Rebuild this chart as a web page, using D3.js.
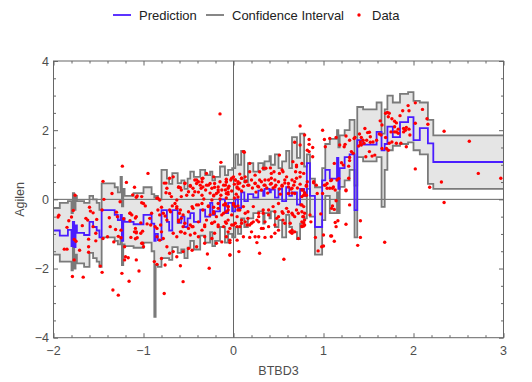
<!DOCTYPE html>
<html><head><meta charset="utf-8">
<script src="https://cdn.jsdelivr.net/npm/d3@7"></script>
<style>body{margin:0;background:#fff}svg{display:block;font-family:"Liberation Sans",Arial,sans-serif}</style>
</head><body><svg id="c" width="532" height="382"></svg>
<script>
// step breakpoints of the fitted model (x = left edge of each step)
const stepX = [-2.00,-1.93,-1.84,-1.80,-1.785,-1.77,-1.755,-1.74,-1.66,-1.60,-1.56,-1.52,-1.49,-1.465,-1.32,-1.285,-1.255,-1.24,-1.225,-1.21,-1.11,-1.00,-0.91,-0.88,-0.865,-0.84,-0.80,-0.74,-0.715,-0.68,-0.62,-0.58,-0.545,-0.51,-0.48,-0.44,-0.37,-0.315,-0.26,-0.235,-0.205,-0.15,-0.095,-0.06,-0.015,0.02,0.05,0.085,0.12,0.16,0.22,0.275,0.33,0.345,0.40,0.415,0.46,0.50,0.54,0.585,0.62,0.65,0.705,0.74,0.785,0.815,0.85,0.905,0.985,1.02,1.07,1.15,1.165,1.18,1.235,1.29,1.345,1.375,1.44,1.59,1.645,1.68,1.71,1.77,1.85,1.94,2.00,2.07,2.16,2.22];
const prediction = [-0.90,-1.05,-0.88,-1.35,-0.65,-1.38,-0.75,-0.97,-1.03,-0.65,-0.80,-0.90,-1.10,-0.31,-0.45,-0.60,-0.45,-1.20,-0.55,-0.65,-0.72,-0.45,-0.70,-1.20,-1.00,-1.18,-0.31,-0.65,-0.90,-0.31,-0.68,-0.50,-0.80,-0.55,-0.40,-0.65,-0.30,-0.50,-0.10,-0.45,-0.35,0.00,-0.40,-0.10,-0.35,0.00,-0.25,0.20,-0.05,0.15,0.05,0.25,0.10,0.30,0.20,0.28,0.05,0.30,-0.05,0.35,0.10,0.20,-0.15,0.30,0.10,1.05,0.10,-0.80,0.55,0.85,0.60,1.20,0.30,0.90,1.22,1.30,-0.31,1.71,1.58,1.95,1.42,1.60,2.10,1.80,2.23,2.38,1.71,2.06,1.62,1.08];
const ciLower = [-1.60,-1.80,-1.80,-2.05,-1.35,-2.00,-1.60,-1.85,-1.95,-1.55,-1.70,-1.80,-1.95,-1.10,-1.20,-1.30,-1.10,-1.90,-1.30,-1.35,-1.40,-1.25,-1.50,-3.40,-1.90,-1.95,-1.70,-1.70,-1.75,-1.38,-1.55,-1.45,-1.70,-1.40,-1.20,-1.45,-1.05,-1.25,-0.95,-1.35,-1.20,-0.80,-1.25,-1.00,-1.10,-0.80,-1.00,-0.55,-0.80,-0.55,-0.40,-0.35,-0.70,-0.40,-0.55,-0.35,-0.80,-0.60,-1.10,-0.45,-0.80,-0.95,-1.15,-0.70,-0.55,0.30,-0.50,-1.60,-0.60,0.10,-0.40,0.20,-0.40,0.36,0.55,0.85,-1.10,1.22,1.10,1.22,-0.22,0.85,1.42,1.55,1.60,1.65,1.42,1.30,0.45,0.30];
const ciUpper = [-0.25,-0.10,-0.05,-0.40,0.18,-0.30,0.10,-0.05,-0.10,0.10,0.00,-0.10,-0.30,0.46,0.35,0.20,0.65,-0.20,0.30,0.10,0.18,0.35,0.15,0.05,0.10,0.00,0.85,0.60,0.45,0.76,0.47,0.55,0.30,0.60,0.80,0.65,0.85,0.70,0.80,0.55,0.65,0.95,0.70,0.85,0.90,1.30,1.00,1.40,0.50,1.05,0.80,1.05,0.85,1.10,1.25,1.00,1.30,0.90,1.10,1.40,0.90,1.80,1.20,1.90,0.95,1.30,0.60,0.35,0.90,1.60,1.75,2.00,1.50,1.85,2.00,2.30,0.40,2.67,2.60,2.80,1.90,2.60,3.00,2.80,3.05,3.10,2.85,2.80,2.30,1.85];

const xTicks = [-2,-1,0,1,2,3];
const yTicks = [-4,-2,0,2,4];

// observed samples [BTBD3, Agilen]
const dataPoints = [
[-1.235,0.96],[-1.45,0.52],[-1.19,0.49],[-1.76,0.12],[-1.35,0.17],[-1.44,0.0],[-1.12,0.13],[-1.07,0.10],[-1.26,-0.07],[-1.02,-0.10],
[-1.78,-0.32],[-1.60,-0.23],[-1.59,-0.34],[-1.56,-0.39],[-1.46,-0.31],[-1.30,-0.37],[-1.15,-0.40],[-1.94,-0.46],[-1.95,-0.51],[-1.64,-0.55],
[-1.62,-0.60],[-1.83,-0.62],[-1.80,-0.51],[-1.52,-0.58],[-1.38,-0.53],[-1.29,-0.50],[-1.22,-0.56],[-1.15,-0.62],[-1.09,-0.54],[-1.03,-0.68],
[-1.68,-0.76],[-1.85,-0.81],[-1.56,-0.79],[-1.37,-0.79],[-1.31,-0.87],[-1.25,-0.89],[-1.10,-0.94],[-1.08,-0.94],[-1.01,-0.92],[-1.53,-0.98],
[-1.61,-1.15],[-1.53,-1.20],[-1.77,-1.16],[-1.75,-1.21],[-1.45,-1.13],[-1.40,-1.08],[-1.33,-1.23],[-1.28,-1.07],[-1.25,-1.11],[-1.14,-1.10],
[-1.09,-1.14],[-1.01,-1.27],[-1.21,-1.37],[-1.88,-1.44],[-1.85,-1.44],[-1.71,-1.47],[-1.61,-1.53],[-1.20,-1.66],[-1.17,-1.69],[-1.21,-1.75],
[-1.77,-1.75],[-1.48,-1.93],[-1.46,-2.11],[-1.24,-2.14],[-1.79,-2.23],[-1.67,-2.25],[-1.16,-2.37],[-1.05,-2.07],[-1.34,-2.62],[-1.28,-2.77],
[-1.61,-1.37],[-1.10,0.35],
[-0.15,2.47],[-0.14,1.07],[-0.95,0.75],[-0.71,0.61],[-0.67,0.65],[-0.77,0.47],[-0.75,0.47],[-0.54,0.47],[-0.41,0.56],[-0.35,0.60],
[-0.30,0.75],[-0.61,0.35],[-0.59,0.34],[-0.48,0.40],[-0.75,0.19],[-0.84,0.03],[-1.08,0.06],[-1.02,0.08],[-0.45,0.12],[-0.43,0.22],
[-0.36,0.32],[-0.34,0.36],[-0.26,0.46],[-0.21,0.35],[-0.17,0.27],[-0.11,0.41],[-0.08,0.51],[-0.02,0.61],[0.02,0.56],[0.04,0.36],
[-0.39,0.21],[-0.35,0.12],[-0.31,0.27],[-0.26,0.18],[-0.22,0.10],[-0.17,0.21],[-0.14,0.12],[-0.09,0.27],[-0.06,0.15],[-0.02,0.24],
[0.03,0.15],[0.06,0.30],[-0.33,0.01],[-0.24,-0.02],[-0.15,0.01],[-0.08,0.04],[0.01,0.04],[0.05,0.07],
[-1.0,-0.12],[-0.98,-0.19],[-1.15,-0.40],[-1.13,-0.45],[-1.08,-0.50],[-0.93,-0.55],[-0.92,-0.74],[-0.96,-0.71],[-1.03,-0.98],[-1.02,-1.27],
[-1.0,-1.37],[-0.85,0.03],[-0.82,-0.02],[-0.80,-0.23],[-0.84,-0.31],[-0.82,-0.45],[-0.78,-0.40],[-0.76,-0.48],[-0.74,-0.60],[-0.71,-0.31],
[-0.70,-0.36],[-0.68,-0.19],[-0.65,-0.12],[-0.63,-0.26],[-0.60,-0.40],[-0.58,-0.55],[-0.61,-0.65],[-0.87,-0.79],[-0.85,-0.84],[-0.81,-0.74],
[-0.80,-0.94],[-0.85,-1.08],[-0.82,-1.18],[-0.78,-1.13],[-0.67,-0.98],[-0.63,-1.08],[-0.59,-0.94],[-0.56,-0.79],[-0.54,-0.98],[-0.50,-0.84],
[-0.48,-0.74],[-0.45,-0.79],[-0.43,-0.98],[-0.39,-1.08],[-0.35,-0.89],[-0.32,-0.79],[-0.30,-0.60],[-0.24,-0.69],[-0.21,-0.65],[-0.17,-0.74],
[-0.11,-0.79],[-0.08,-0.69],[-0.04,-0.84],[0.0,-0.74],[0.04,-0.79],[-0.26,-0.45],[-0.22,-0.40],[-0.19,-0.50],[-0.13,-0.45],[-0.08,-0.36],
[-0.02,-0.45],[-0.46,-0.21],[-0.41,-0.16],[-0.35,-0.12],[-0.28,-0.19],[-0.22,-0.23],[-0.17,-0.12],[-0.11,-0.16],[-0.06,-0.21],[0.0,-0.12],
[0.05,-0.19],[-0.74,-1.37],[-0.71,-1.56],[-0.67,-1.51],[-0.63,-1.66],[-0.56,-1.51],[-0.50,-1.42],[-0.46,-1.47],[-0.41,-1.37],[-0.32,-1.27],
[-0.24,-1.13],[-0.19,-1.27],[-0.13,-1.23],[-0.04,-1.18],[-0.88,-1.80],[-0.85,-1.88],[-0.80,-1.71],[-0.76,-1.90],[-0.59,-1.92],[-0.29,-1.58],
[-0.04,-1.61],[-0.27,-1.99],[-1.08,-1.75],[-0.56,-2.38],[-0.77,-2.72],[-0.91,-0.40],[-1.09,-0.84],[-1.08,-0.97],[-1.07,-1.11],
[-0.74,0.32],[-0.71,0.17],[-0.69,0.08],[-0.63,-0.02],[-0.58,0.08],[-0.52,0.12],
[0.74,2.12],[0.99,2.00],[0.79,1.86],[0.68,1.65],[0.84,1.73],[0.84,1.59],[0.88,1.50],[0.74,1.57],[1.01,1.73],[1.07,1.76],
[1.02,1.52],[0.82,1.42],[0.84,1.38],[0.51,1.28],[0.12,1.36],[0.88,1.23],[0.66,1.09],[0.70,0.99],[0.76,1.04],[0.69,0.80],
[0.74,0.78],[0.36,0.90],[0.41,0.91],[0.45,0.80],[0.51,0.75],[0.18,1.04],[0.07,0.73],[0.09,0.61],[0.05,0.51],[0.13,0.65],
[0.18,0.80],[0.24,0.70],[0.29,0.56],[0.35,0.56],[0.42,0.61],[0.46,0.56],[0.55,0.80],[0.59,0.65],[0.65,0.56],[0.70,0.61],
[0.89,0.51],[0.92,0.41],[1.02,0.41],[1.11,0.36],[1.07,0.32],[1.13,0.27],
[-0.08,0.50],[-0.05,0.38],[-0.03,0.56],[0.01,0.44],[0.04,0.33],[0.07,0.47],[0.11,0.38],[0.14,0.53],[0.17,0.41],[0.21,0.33],
[0.24,0.47],[0.27,0.38],[0.31,0.27],[0.34,0.41],[0.37,0.33],[0.41,0.44],[0.44,0.33],[0.47,0.41],[0.51,0.30],[0.54,0.38],
[0.57,0.47],[0.61,0.36],[0.64,0.30],[0.67,0.41],[0.71,0.33],[0.74,0.44],[0.77,0.27],[0.81,0.38],[-0.06,0.21],[0.09,0.24],
[0.25,0.21],[0.38,0.18],[0.52,0.15],[0.65,0.18],[0.78,0.12],
[-0.09,-0.12],[-0.06,-0.21],[0.0,-0.16],[0.05,-0.31],[0.11,-0.21],[0.16,-0.36],[0.22,-0.21],[0.28,-0.40],[0.33,-0.31],[0.39,-0.45],
[0.46,-0.36],[0.50,-0.50],[0.55,-0.40],[0.61,-0.36],[0.66,-0.45],[0.72,-0.40],[0.78,-0.50],
[-0.06,-0.60],[0.02,-0.69],[0.07,-0.79],[0.13,-0.65],[0.18,-0.74],[0.26,-0.60],[0.31,-0.84],[0.39,-0.79],[0.48,-0.55],[0.55,-0.60],
[0.63,-0.69],[0.68,-0.50],[0.76,-0.65],[0.79,-0.74],
[-0.08,-1.08],[-0.04,-1.25],[0.04,-1.18],[0.11,-1.08],[0.18,-1.10],[0.26,-1.25],[0.28,-1.08],[0.35,-1.10],[0.42,-1.08],[0.46,-0.98],
[0.63,-0.94],[0.65,-0.98],[0.68,-0.94],[0.76,-0.79],[0.78,-0.77],
[-0.04,-1.61],[0.06,-1.51],[0.29,-1.56],[0.56,-1.73],[1.10,0.32],[1.09,-0.26],[1.08,-1.06],[1.0,-1.03],[0.98,-1.37],[1.04,0.46],
[0.82,0.51],[0.89,0.48],[1.08,0.54],[1.15,0.56],[0.79,0.19],[0.81,0.12],[0.76,0.08],[0.93,0.17],[0.99,0.17],[1.01,0.41],
[1.04,0.32],[1.14,-0.04],[1.29,-0.16],[1.10,-0.19],[1.12,-0.29],[0.75,-0.16],[0.78,-0.21],[0.76,-0.36],[0.77,-0.50],[0.79,-0.60],
[0.78,-0.68],[0.76,-0.77],[0.85,-0.45],[0.86,-0.65],[0.97,-0.42],[1.13,-0.67],[1.14,-0.79],[1.16,-0.62],[1.25,-0.72],[1.41,-0.62],
[1.09,-1.06],[1.12,-1.21],[0.91,-1.10],[0.94,-1.49],[1.0,-1.35],[1.38,-1.33],[1.41,-1.10],[1.68,-1.24],[1.25,0.27],
[2.02,2.79],[2.10,2.60],[1.94,2.71],[1.95,2.56],[1.88,2.56],[1.71,2.51],[1.73,2.49],[1.72,2.39],[1.69,2.49],[1.85,2.42],
[1.76,2.33],[1.81,2.21],[1.79,2.26],[2.15,2.33],[2.16,2.17],[1.63,2.27],[1.65,2.15],[2.02,2.20],[1.79,2.10],[1.83,2.03],
[1.89,2.05],[1.91,2.00],[1.92,2.08],[1.95,2.03],[1.96,1.86],[1.89,1.95],[2.34,1.97],[2.62,1.68],[1.75,1.95],[1.79,1.95],
[1.81,1.95],[1.83,1.91],[1.46,2.05],[1.49,1.93],[1.51,1.94],[1.52,1.81],[1.62,1.89],[1.64,1.86],[1.69,1.79],[1.40,1.89],
[1.42,1.79],[1.41,1.66],[1.44,1.71],[1.45,1.62],[1.52,1.65],[1.48,1.71],[1.55,1.66],[1.59,1.71],[1.76,1.66],[1.81,1.62],
[1.86,1.62],[1.92,1.52],[1.73,1.62],[1.70,1.47],[1.72,1.42],[1.65,1.47],[1.41,1.59],[1.39,1.54],[1.42,1.57],[1.18,1.57],
[1.23,1.52],[1.24,1.59],[1.29,1.71],[1.35,1.79],[1.47,1.23],[1.54,1.25],[1.57,1.28],[1.51,1.38],[1.31,1.38],[1.33,1.33],
[1.29,1.21],[1.29,1.12],[1.12,1.04],[1.20,1.06],[1.22,0.99],[1.17,0.60],[1.09,0.56],[1.28,0.96],[1.28,0.61],[1.25,0.25],
[2.02,0.88],[2.18,0.35],[2.31,0.50],[2.34,-0.09],[2.72,0.75],[2.97,0.61],[0.11,1.38],[1.14,1.79],[1.25,1.83],[1.34,1.76],
[-0.39,0.51],[-0.34,0.61],[-0.30,0.41],[-0.22,0.65],[-0.15,0.51],[-0.08,0.58],[0.0,0.65],
[-0.43,0.56],[-0.41,0.46],[-0.35,0.51],[-0.37,0.41],[-0.54,0.46],[-0.48,0.38],[-0.45,0.32],[-0.50,0.22],[-0.61,0.36],[-0.58,0.27],
[-0.28,0.41],[-0.24,0.32],[-0.21,0.46],[-0.17,0.36],[-0.13,0.27],[-0.09,0.41],[-0.06,0.32],[-0.08,0.17],[-0.19,0.17],[-0.22,0.12],
[0.02,0.56],[0.05,0.46],[0.09,0.61],[0.13,0.51],[0.16,0.41],[0.20,0.56],[0.24,0.46],[0.28,0.36],[0.31,0.51],[0.35,0.41],
[0.39,0.56],[0.42,0.46],[0.46,0.36],[0.50,0.51],[0.54,0.41],[0.57,0.56],[0.61,0.46],[0.65,0.32],[0.68,0.51],[0.74,0.65],
[0.78,0.75],[0.81,0.41],[0.76,0.27],[0.68,0.17],[0.61,0.17],[0.29,0.80],[0.33,0.90],[0.42,0.75],[0.54,0.85],[0.70,0.94],
[0.02,-0.21],[0.07,-0.31],[0.13,-0.40],[0.04,-0.50],[0.09,-0.60],[0.16,-0.55],[0.22,-0.65],[0.28,-0.50],[0.33,-0.40],[0.39,-0.31],
[0.44,-0.21],[0.50,-0.12],[0.54,-0.36],[0.59,-0.26],[0.65,-0.40],[0.70,-0.31],[0.76,-0.16],[0.79,-0.40],[0.09,-0.69],[0.15,-0.74],
[0.20,-0.69],[0.28,-0.65],[0.35,-0.65],[0.46,-0.74],[0.57,-0.69],[0.65,-0.89],
[-0.63,-0.21],[-0.59,-0.31],[-0.56,-0.45],[-0.50,-0.36],[-0.45,-0.26],[-0.39,-0.16],[-0.34,-0.31],[-0.28,-0.21],[-0.22,-0.36],[-0.17,-0.26],
[-0.11,-0.40],[-0.06,-0.31],[-0.09,-0.16],[-0.61,-0.60],[-0.54,-0.69],[-0.46,-0.79],[-0.39,-0.65],[-0.32,-0.74],[-0.24,-0.69],[-0.17,-0.79],
[-0.09,-0.65],[-0.02,-0.74],[-0.58,-0.94],[-0.48,-1.03],[-0.32,-1.08],[-0.21,-0.98],[-0.06,-0.94],[0.24,-1.08],[0.33,-0.84],[0.50,-0.89],
[0.63,-0.94],[0.72,-1.13],[0.20,-0.94]
];

const W = 532, H = 382;
const L = 53.5, R = 503.5, T = 61, B = 337.7;
const svg = d3.select("#c");
const x = d3.scaleLinear().domain([-2, 3]).range([L, R]);
const y = d3.scaleLinear().domain([-4, 4]).range([B, T]);

const frameCol = "#666", txtCol = "#4d4d4d";

svg.append("defs").append("clipPath").attr("id", "clip")
  .append("rect").attr("x", L).attr("y", T).attr("width", R - L).attr("height", B - T);

// step table incl. closing point at right edge
const steps = stepX.map((sx, i) => ({x: sx, p: prediction[i], lo: ciLower[i], hi: ciUpper[i]}));
steps.push(Object.assign({}, steps[steps.length - 1], {x: 3}));

const g = svg.append("g").attr("clip-path", "url(#clip)");

g.append("path").datum(steps)
  .attr("d", d3.area().curve(d3.curveStepAfter).x(d => x(d.x)).y0(d => y(d.lo)).y1(d => y(d.hi)))
  .attr("fill", "#e5e5e5");

// zero axes
g.append("line").attr("x1", x(0)).attr("x2", x(0)).attr("y1", T).attr("y2", B).attr("stroke", frameCol).attr("stroke-width", 1);
g.append("line").attr("x1", L).attr("x2", R).attr("y1", y(0)).attr("y2", y(0)).attr("stroke", frameCol).attr("stroke-width", 1);

const ln = acc => d3.line().curve(d3.curveStepAfter).x(d => x(d.x)).y(d => y(acc(d)));
g.append("path").datum(steps).attr("d", ln(d => d.lo)).attr("fill", "none").attr("stroke", "#7a7a7a").attr("stroke-width", 1.8);
g.append("path").datum(steps).attr("d", ln(d => d.hi)).attr("fill", "none").attr("stroke", "#7a7a7a").attr("stroke-width", 1.8);
g.append("path").datum(steps).attr("d", ln(d => d.p)).attr("fill", "none").attr("stroke", "#4a1dff").attr("stroke-width", 1.8);

g.selectAll("circle.pt").data(dataPoints).join("circle").attr("class", "pt")
  .attr("cx", d => x(d[0])).attr("cy", d => y(d[1])).attr("r", 1.7).attr("fill", "#ff0000");

// frame
svg.append("rect").attr("x", L).attr("y", T).attr("width", R - L).attr("height", B - T)
  .attr("fill", "none").attr("stroke", frameCol).attr("stroke-width", 1);

const xMinor = d3.range(-2, 3.001, 0.2).map(v => +v.toFixed(2)).filter(v => !xTicks.includes(v));
const yMinor = d3.range(-4, 4.001, 0.5).filter(v => !yTicks.includes(v));

function ax(axisFn, scale, vals, size, tr) {
  const a = svg.append("g").attr("transform", tr)
    .call(axisFn(scale).tickValues(vals).tickSize(size).tickFormat(""));
  a.select(".domain").remove();
  a.selectAll("line").attr("stroke", frameCol);
}
ax(d3.axisBottom, x, xTicks, -4.5, `translate(0,${B})`);
ax(d3.axisBottom, x, xMinor, -2.5, `translate(0,${B})`);
ax(d3.axisTop, x, xTicks, -4.5, `translate(0,${T})`);
ax(d3.axisTop, x, xMinor, -2.5, `translate(0,${T})`);
ax(d3.axisLeft, y, yTicks, -4.5, `translate(${L},0)`);
ax(d3.axisLeft, y, yMinor, -2.5, `translate(${L},0)`);
ax(d3.axisRight, y, yTicks, -4.5, `translate(${R},0)`);
ax(d3.axisRight, y, yMinor, -2.5, `translate(${R},0)`);

const fmt = d3.format("d");
svg.append("g").selectAll("text").data(xTicks).join("text")
  .attr("x", d => x(d)).attr("y", B + 17.5).attr("text-anchor", "middle")
  .attr("font-size", 12.5).attr("fill", txtCol).text(d => fmt(d));
svg.append("g").selectAll("text").data(yTicks).join("text")
  .attr("x", L - 4.5).attr("y", d => y(d) + 4.5).attr("text-anchor", "end")
  .attr("font-size", 12.5).attr("fill", txtCol).text(d => fmt(d));

svg.append("text").attr("x", (L + R) / 2).attr("y", 375).attr("text-anchor", "middle")
  .attr("font-size", 12.5).attr("fill", txtCol).text("BTBD3");
svg.append("text").attr("transform", `translate(24,${(T + B) / 2}) rotate(-90)`).attr("text-anchor", "middle")
  .attr("font-size", 12.5).attr("fill", txtCol).text("Agilen");

// legend
const leg = svg.append("g");
const ly = 15;
leg.append("line").attr("x1", 113).attr("x2", 131).attr("y1", ly).attr("y2", ly).attr("stroke", "#4a1dff").attr("stroke-width", 1.8);
leg.append("text").attr("x", 139).attr("y", ly + 4.5).attr("font-size", 13).attr("fill", "#222").text("Prediction");
leg.append("line").attr("x1", 206).attr("x2", 224).attr("y1", ly).attr("y2", ly).attr("stroke", "#7a7a7a").attr("stroke-width", 1.8);
leg.append("text").attr("x", 232).attr("y", ly + 4.5).attr("font-size", 13).attr("fill", "#222").text("Confidence Interval");
leg.append("circle").attr("cx", 359).attr("cy", ly).attr("r", 1.7).attr("fill", "#ff0000");
leg.append("text").attr("x", 372).attr("y", ly + 4.5).attr("font-size", 13).attr("fill", "#222").text("Data");
</script></body></html>
